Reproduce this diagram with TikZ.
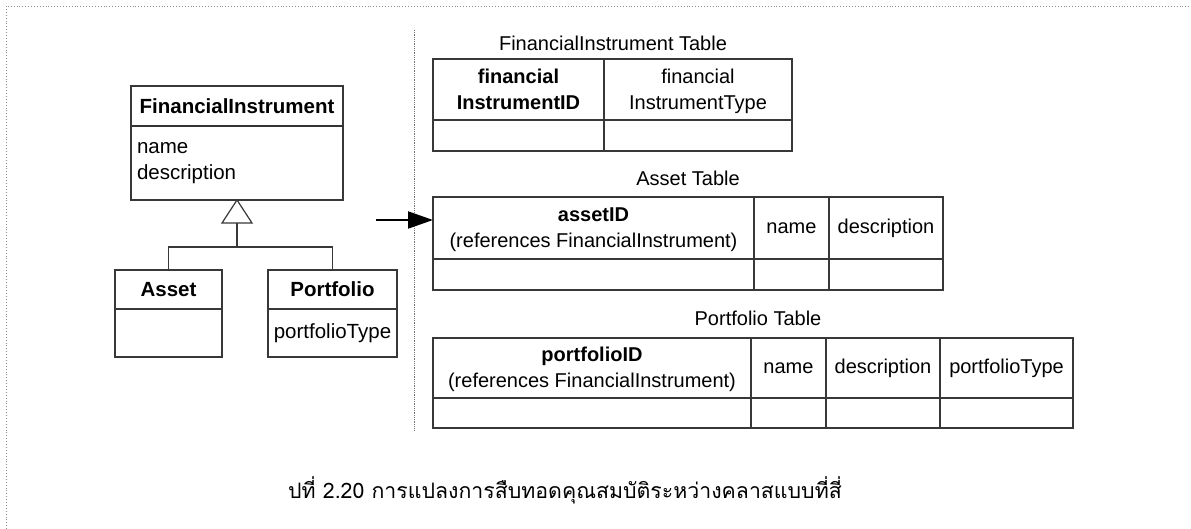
\documentclass[tikz,border=0pt]{standalone}
\usepackage{fontspec}
\setmainfont{Liberation Sans}
\newfontfamily\thaifont[Script=Thai]{Loma}
\usetikzlibrary{arrows.meta}

\tikzset{
  ln/.style={draw=black!78, line width=1.2pt},
  box/.style={ln, rectangle, inner sep=0pt, outer sep=0pt, anchor=north west},
  cell/.style={box, align=center, font=\fontsize{20}{26}\selectfont},
  clshead/.style={box, align=center, font=\fontsize{20.5}{26}\selectfont\bfseries},
  clsbody/.style={box, align=left, font=\fontsize{20.5}{26}\selectfont},
  tlabel/.style={font=\fontsize{20}{24}\selectfont, inner sep=0pt},
}
% two-line headers: equal line boxes so both columns share baselines
\newcommand{\lnstrut}{\rule[-4pt]{0pt}{22pt}}
\newcommand{\twoline}[2]{\lnstrut #1\\\lnstrut #2}

\begin{document}
\begin{tikzpicture}[x=1pt, y=-1pt]
\useasboundingbox (0,0) rectangle (1191,529);

% page frame (dotted)
\draw[black!45, dotted, line width=0.9pt] (6,529) -- (6,6) -- (1191,6);

% separator between class model and tables
\draw[black!55, densely dotted, line width=0.8pt] (414,30) -- (414,430);

% ---------- class diagram ----------
\node[clshead, minimum width=212pt, minimum height=40pt] (fiHead) at (131,86) {FinancialInstrument};
\node[clsbody, minimum width=212pt, minimum height=74pt, text width=200pt] (fiBody) at (131,126) {name\\description};
\draw[black!80, line width=2.4pt] (fiHead.south west) -- (fiHead.south east);

\node[clshead, minimum width=107pt, minimum height=39pt] (assetHead) at (115,270) {Asset};
\node[clsbody, minimum width=107pt, minimum height=48pt] (assetBody) at (115,309) {};

\node[clshead, minimum width=129pt, minimum height=39pt] (portHead) at (268,270) {Portfolio};
\node[cell, font=\fontsize{20.5}{26}\selectfont, minimum width=129pt, minimum height=48pt] (portBody) at (268,309) {portfolioType};

% generalisation
\coordinate (triBase) at (237,223);
\coordinate (joint) at (237,247);
\draw[ln, fill=white] (fiBody.south) -- ++(-15,23) -- ++(30,0) -- cycle;
\draw[ln] (triBase) -- (joint);
\draw[ln] (assetHead.north) |- (joint) -| (portHead.north);

% ---------- FinancialInstrument table ----------
\node[tlabel] (fiTitle) at (613,43) {FinancialInstrument Table};
\node[cell, minimum width=171pt, minimum height=61pt] (fiId) at (433,59) {\twoline{\textbf{financial}}{\textbf{InstrumentID}}};
\node[cell, minimum width=188pt, minimum height=61pt] (fiType) at (604,59) {\twoline{financial}{InstrumentType}};
\node[cell, minimum width=171pt, minimum height=31pt] (fiR1) at (433,120) {};
\node[cell, minimum width=188pt, minimum height=31pt] (fiR2) at (604,120) {};

% ---------- Asset table ----------
\node[tlabel] (assetTitle) at (688,178) {Asset Table};
\node[cell, minimum width=321pt, minimum height=62pt] (assetId) at (433,197) {\twoline{\textbf{assetID}}{(references FinancialInstrument)}};
\node[cell, minimum width=75pt, minimum height=62pt] (assetName) at (754,197) {name};
\node[cell, minimum width=114pt, minimum height=62pt] (assetDesc) at (829,197) {description};
\node[cell, minimum width=321pt, minimum height=31pt] (assetR1) at (433,259) {};
\node[cell, minimum width=75pt, minimum height=31pt] (assetR2) at (754,259) {};
\node[cell, minimum width=114pt, minimum height=31pt] (assetR3) at (829,259) {};

% ---------- Portfolio table ----------
\node[tlabel] (portTitle) at (758,318) {Portfolio Table};
\node[cell, minimum width=318pt, minimum height=60pt] (portId) at (433,338) {\twoline{\textbf{portfolioID}}{(references FinancialInstrument)}};
\node[cell, minimum width=75pt, minimum height=60pt] (portName) at (751,338) {name};
\node[cell, minimum width=114pt, minimum height=60pt] (portDesc) at (826,338) {description};
\node[cell, minimum width=133pt, minimum height=60pt] (portType) at (940,338) {portfolioType};
\node[cell, minimum width=318pt, minimum height=30pt] (portR1) at (433,398) {};
\node[cell, minimum width=75pt, minimum height=30pt] (portR2) at (751,398) {};
\node[cell, minimum width=114pt, minimum height=30pt] (portR3) at (826,398) {};
\node[cell, minimum width=133pt, minimum height=30pt] (portR4) at (940,398) {};

% mapping arrow
\coordinate (arrStart) at (376,220);
\draw[black, line width=1.9pt, -{Triangle[length=25pt,width=17pt]}] (arrStart) -- (arrStart -| assetId.west);

% caption
\node[inner sep=0pt, font=\thaifont\fontsize{21.3}{28}\selectfont] (caption) at (565,490)
  {ปที่ 2.20 การแปลงการสืบทอดคุณสมบัติระหว่างคลาสแบบที่สี่};
\end{tikzpicture}
\end{document}
